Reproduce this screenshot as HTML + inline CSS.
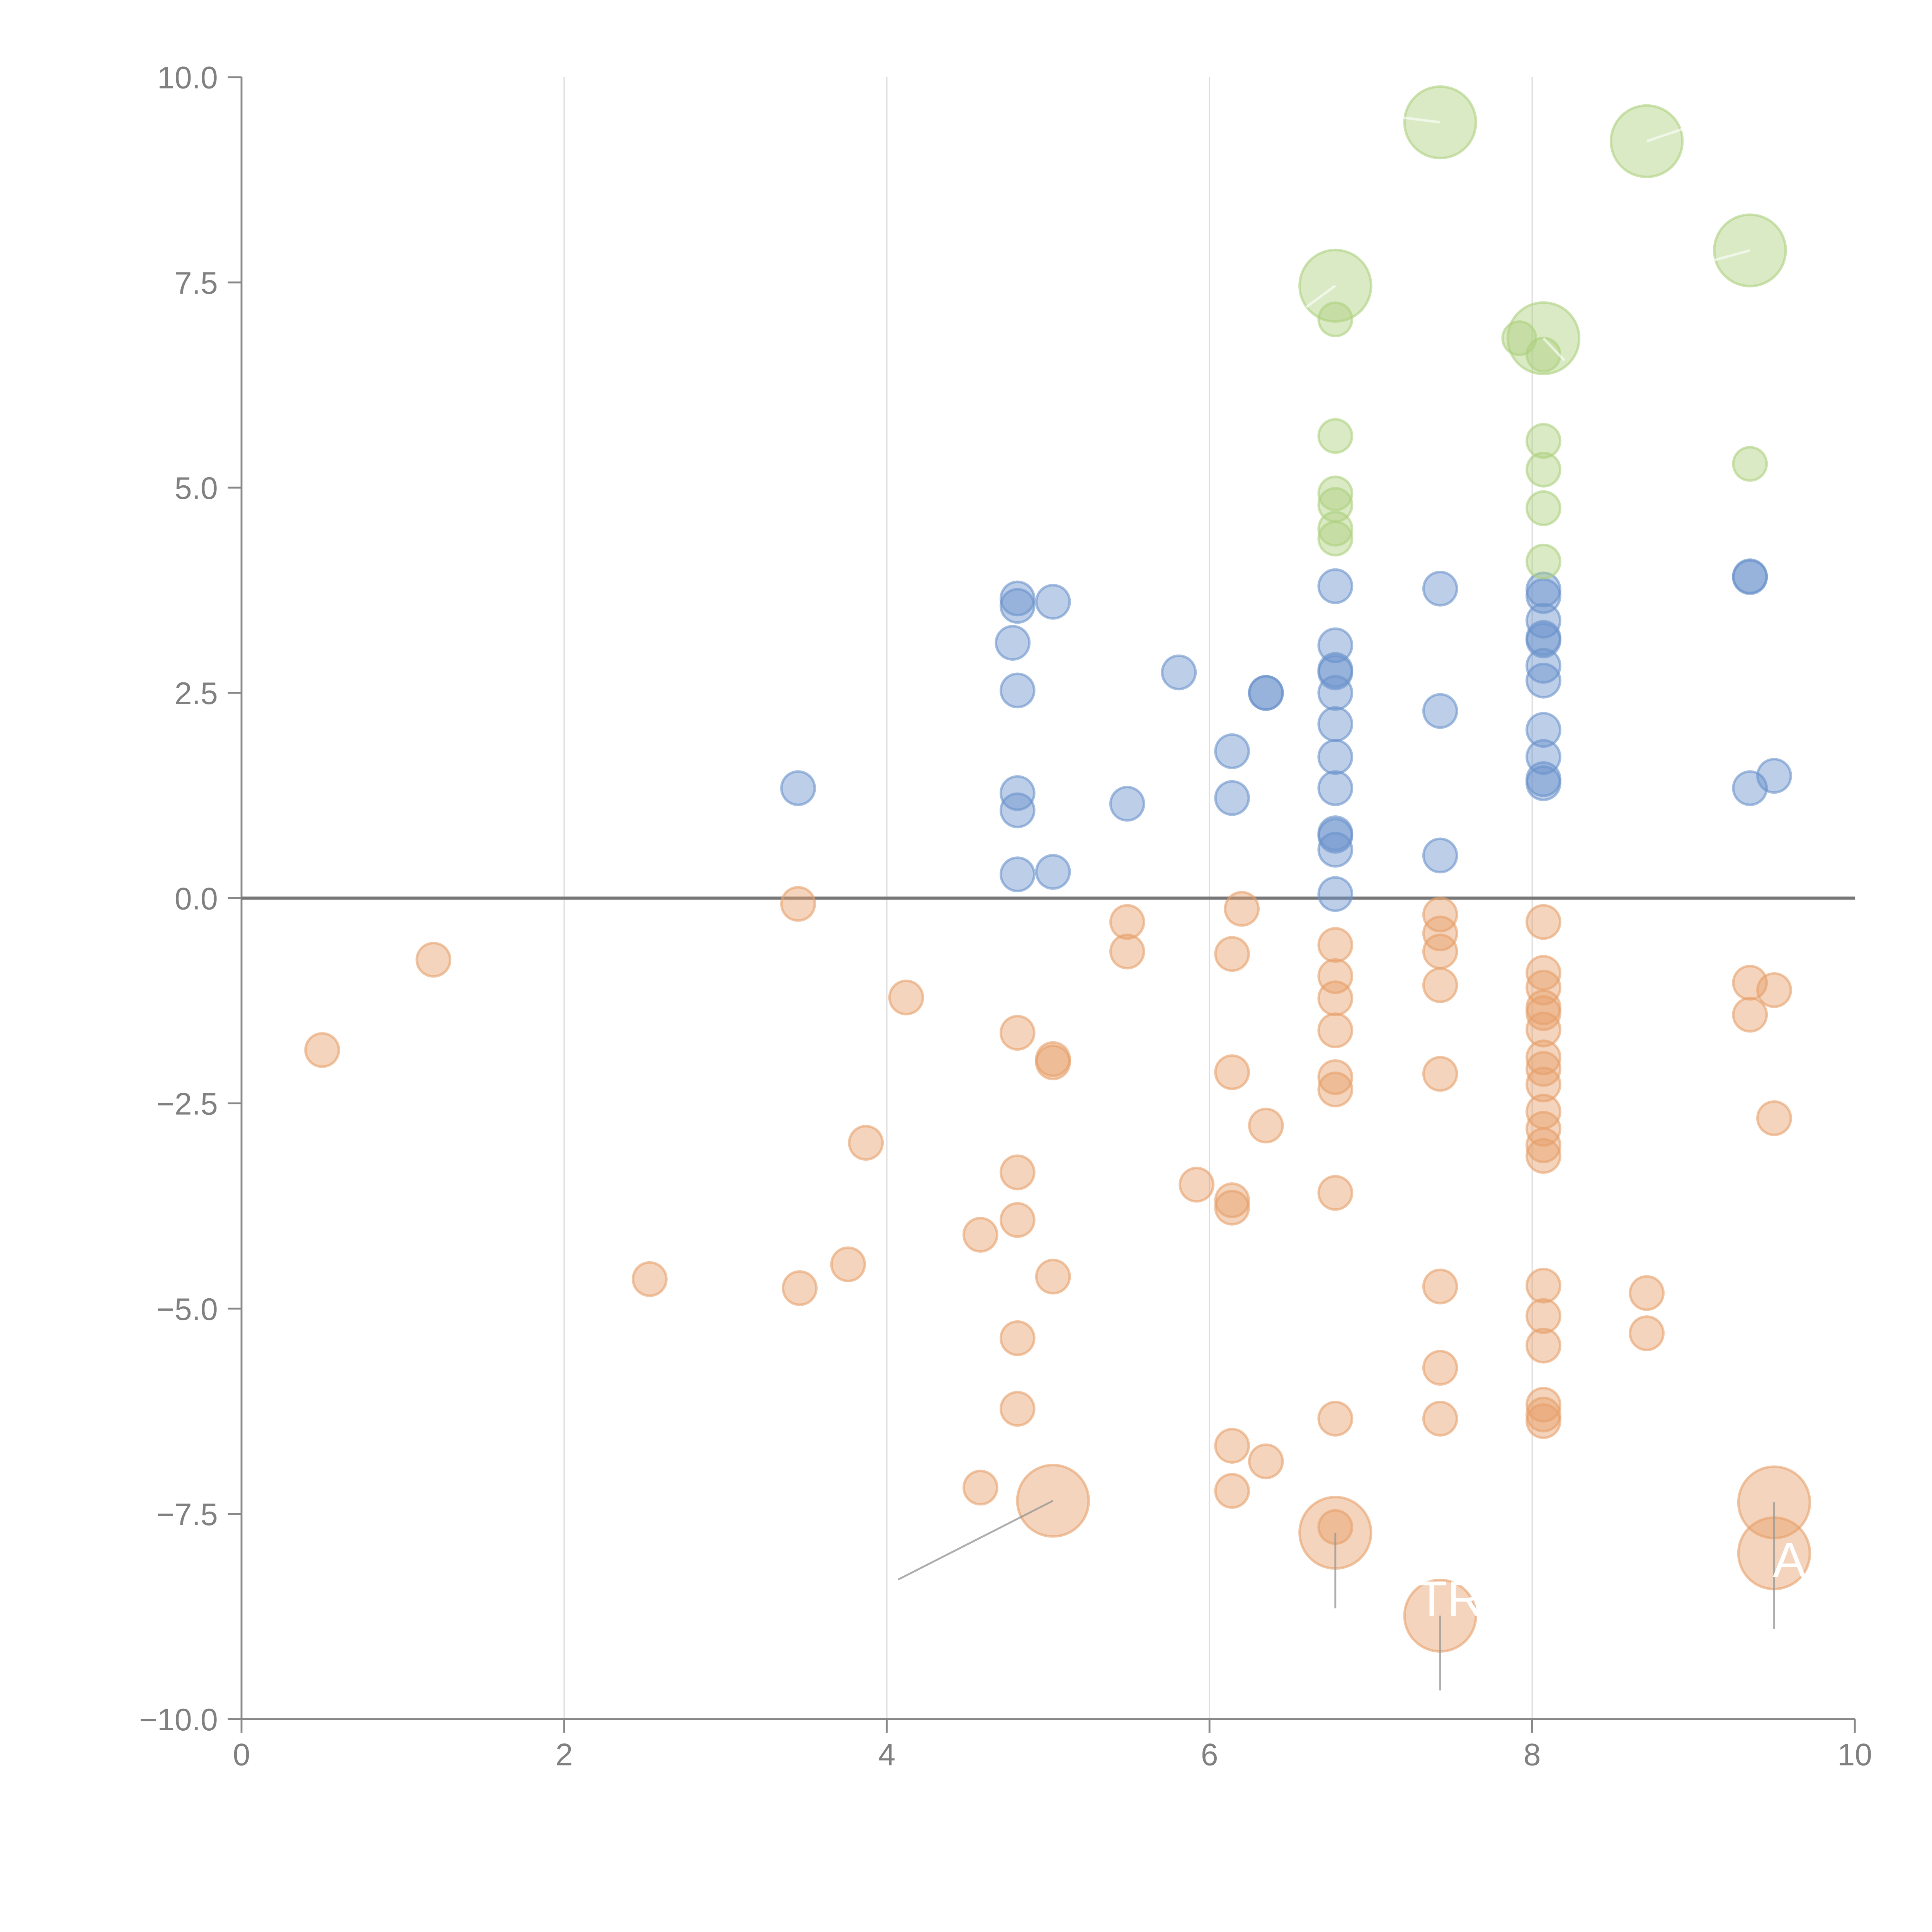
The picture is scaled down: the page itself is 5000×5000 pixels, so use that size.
<!DOCTYPE html>
<html><head><meta charset="utf-8"><style>
html,body{margin:0;padding:0;background:#fff;}
svg{display:block;}
text{font-family:"Liberation Sans",sans-serif;}
</style></head><body>
<svg id="chart" width="5000" height="5000" viewBox="0 0 1552 1552" xmlns="http://www.w3.org/2000/svg">
<g id="grid"></g>
<g id="axes"></g>
<g id="marks"></g>
<g id="annot"></g>
</svg>
<script>
const xTicks=[0,2,4,6,8,10];
const yTicks=[-10,-7.5,-5,-2.5,0,2.5,5,7.5,10];
const greenX=[7.43,8.71,9.35,6.78,8.07,6.78,7.92,8.07,6.78,8.07,8.07,9.35,6.78,6.78,8.07,6.78,6.78,8.07];
const greenY=[9.45,9.22,7.89,7.46,6.82,7.05,6.82,6.62,5.63,5.57,5.22,5.29,4.93,4.79,4.75,4.5,4.38,4.1];
const greenS=[2,2,2,2,2,1,1,1,1,1,1,1,1,1,1,1,1,1];
const blueX=[3.45,4.81,4.81,5.03,4.78,4.81,4.81,4.81,4.81,5.03,5.49,5.81,6.14,6.14,6.35,6.35,
6.78,6.78,6.78,6.78,6.78,6.78,6.78,6.78,6.78,6.78,6.78,6.78,7.43,7.43,7.43,
8.07,8.07,8.07,8.07,8.07,8.07,8.07,8.07,8.07,8.07,8.07,9.35,9.35,9.35,9.5];
const blueY=[1.34,3.65,3.56,3.61,3.11,2.53,1.28,1.07,0.29,0.32,1.15,2.75,1.79,1.22,2.5,2.5,
3.8,3.08,2.78,2.75,2.5,2.12,1.72,1.34,0.79,0.76,0.59,0.05,3.77,2.28,0.52,
3.76,3.68,3.38,3.17,3.14,2.83,2.65,2.05,1.72,1.45,1.4,3.92,3.91,1.34,1.49];
const orangeX=[0.5,1.19,2.53,3.45,3.46,3.76,3.87,4.12,4.58,4.58,4.81,4.81,4.81,4.81,4.81,5.03,5.03,5.03,5.03,
5.49,5.49,5.92,6.14,6.14,6.14,6.14,6.14,6.14,6.2,6.35,6.35,
6.78,6.78,6.78,6.78,6.78,6.78,6.78,6.78,6.78,6.78,
7.43,7.43,7.43,7.43,7.43,7.43,7.43,7.43,7.43,
8.07,8.07,8.07,8.07,8.07,8.07,8.07,8.07,8.07,8.07,8.07,8.07,8.07,8.07,8.07,8.07,8.07,8.07,8.07,
8.71,8.71,9.35,9.35,9.5,9.5,9.5,9.5];
const orangeY=[-1.85,-0.75,-4.64,-0.07,-4.75,-4.46,-2.98,-1.21,-4.1,-7.18,-1.64,-3.34,-3.92,-5.36,-6.22,-1.96,-2.0,-4.61,-7.34,
-0.29,-0.65,-3.49,-0.68,-2.12,-3.68,-3.77,-6.67,-7.22,-0.13,-2.77,-6.86,
-0.57,-0.95,-1.22,-1.61,-2.18,-2.33,-3.59,-6.34,-7.73,-7.66,
-0.2,-0.43,-0.65,-1.06,-2.14,-4.73,-5.72,-6.34,-8.74,
-0.29,-0.91,-1.09,-1.33,-1.4,-1.6,-1.94,-2.08,-2.27,-2.6,-2.81,-3.01,-3.14,-4.72,-5.09,-5.45,-6.17,-6.29,-6.37,
-4.81,-5.3,-1.03,-1.42,-1.12,-2.68,-7.36,-7.98];
const orangeS=[1,1,1,1,1,1,1,1,1,1,1,1,1,1,1,1,1,1,2,1,1,1,1,1,1,1,1,1,1,1,1,
1,1,1,1,1,1,1,1,2,1,1,1,1,1,1,1,1,1,2,
1,1,1,1,1,1,1,1,1,1,1,1,1,1,1,1,1,1,1,1,1,1,1,1,1,2,2];
const NS='http://www.w3.org/2000/svg';
const X0=194,X1=1490,Y0=1381,Y1=62;
function sx(v){return X0+(v-0)/(10-0)*(X1-X0);}
function sy(v){return Y0-(v+10)/20*(Y0-Y1);}
function mk(tag,attrs,parent){const e=document.createElementNS(NS,tag);for(const k in attrs)e.setAttribute(k,attrs[k]);parent.appendChild(e);return e;}
const grid=document.getElementById('grid'),axes=document.getElementById('axes'),marks=document.getElementById('marks'),annot=document.getElementById('annot');
xTicks.forEach(t=>{
 if(t>0&&t<10){const g=mk('line',{x1:sx(t),x2:sx(t),y1:Y1,y2:Y0,stroke:'#dddddd','stroke-width':1},grid);
 
 }
 const tk=mk('line',{x1:sx(t),x2:sx(t),y1:Y0,y2:Y0+11,stroke:'#888','stroke-width':1.5},axes);
 
 
 const tl=mk('text',{x:sx(t),y:1418,'text-anchor':'middle','font-size':25,fill:'#808080'},axes);
 tl.textContent=String(t);
 
 
});
yTicks.forEach(t=>{
 const tk=mk('line',{x1:X0-11,x2:X0,y1:sy(t),y2:sy(t),stroke:'#888','stroke-width':1.5},axes);
 
 
 const tl=mk('text',{x:175,y:sy(t)+9,'text-anchor':'end','font-size':25,fill:'#808080'},axes);
 tl.textContent=t.toFixed(1).replace('-','\u2212');
 
 
});
const xa=mk('line',{x1:X0,x2:X1,y1:Y0,y2:Y0,stroke:'#888','stroke-width':1.5},axes);


const ya=mk('line',{x1:X0,x2:X0,y1:Y1,y2:Y0,stroke:'#888','stroke-width':1.5},axes);


const zl=mk('line',{x1:X0,x2:X1,y1:sy(0),y2:sy(0),stroke:'#777','stroke-width':2.5},axes);


function series(xs,ys,ss,color,name){
 xs.forEach((x,i)=>{
  const r=(ss?ss[i]:1)===2?28.7:13.4;
  const c=mk('circle',{cx:sx(x),cy:sy(ys[i]),r:r,fill:color,'fill-opacity':0.45,stroke:color,'stroke-opacity':0.6,'stroke-width':2},marks);
  
  
 });
}
series(blueX,blueY,null,'#6a93cc','blue-bubble');
series(orangeX,orangeY,orangeS,'#e6a06a','orange-bubble');
series(greenX,greenY,greenS,'#add07f','green-bubble');
[[5.03,-7.34,4.07,-8.3],[6.78,-7.73,6.78,-8.65],[7.43,-8.74,7.43,-9.65],[9.5,-7.36,9.5,-8.9]].forEach(l=>{
 const e=mk('line',{x1:sx(l[0]),y1:sy(l[1]),x2:sx(l[2]),y2:sy(l[3]),stroke:'#999','stroke-opacity':0.8,'stroke-width':1.5},annot);
 
 
});
[[7.43,9.45,7.15,9.52],[8.71,9.22,8.95,9.38],[9.35,7.89,9.05,7.73],[6.78,7.46,6.6,7.2],[8.07,6.82,8.2,6.55]].forEach(l=>{
 const e=mk('line',{x1:sx(l[0]),y1:sy(l[1]),x2:sx(l[2]),y2:sy(l[3]),stroke:'#fff','stroke-opacity':0.6,'stroke-width':2},annot);
 
 
});
const t1=mk('text',{x:1138,y:1298,'font-size':40,fill:'#fff'},annot);
t1.textContent='TR';


const t2=mk('text',{x:1424,y:1267,'font-size':40,fill:'#fff'},annot);
t2.textContent='A';


</script>
</body></html>
